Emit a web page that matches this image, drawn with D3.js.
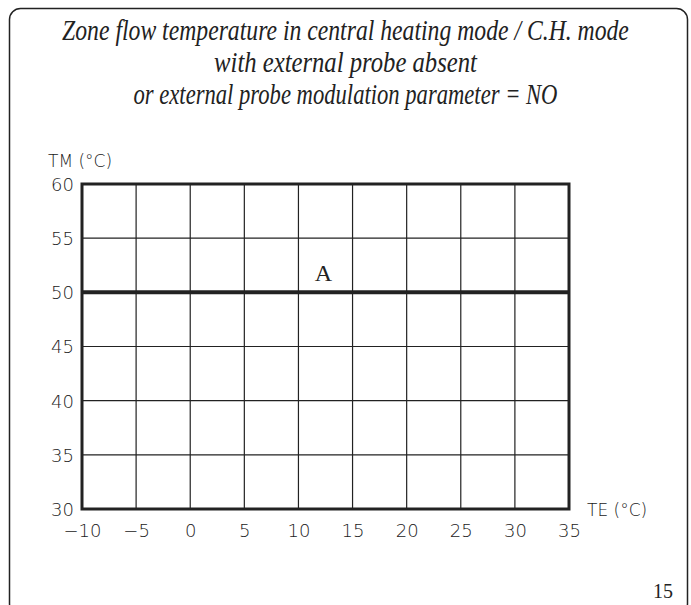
<!DOCTYPE html>
<html>
<head>
<meta charset="utf-8">
<script src="https://cdn.jsdelivr.net/npm/d3@7"></script>
<style>
  html, body { margin: 0; padding: 0; background: #fff; }
</style>
</head>
<body>
<svg id="chart"></svg>
<script>
// Axis ticks (TE outside temperature, TM flow temperature)
const xTicks = [-10, -5, 0, 5, 10, 15, 20, 25, 30, 35]
const yTicks = [30, 35, 40, 45, 50, 55, 60]
// Curve A: flat flow temperature
const curveTE = [-10, 35]
const curveTM = [50, 50]
const curveLabel = 'A'

const titleLines = [
  'Zone flow temperature in central heating mode / C.H. mode',
  'with external probe absent',
  'or external probe modulation parameter = NO'
]

const width = 691
const height = 605
const plot = { left: 82, top: 184, right: 569, bottom: 509 }
const ink = '#222'
const sans = "'DejaVu Sans', sans-serif"
const serif = "'Liberation Serif', 'DejaVu Serif', serif"

const svg = d3.select('#chart')
  .attr('width', width)
  .attr('height', height)

const x = d3.scaleLinear().domain([d3.min(xTicks), d3.max(xTicks)]).range([plot.left, plot.right])
const y = d3.scaleLinear().domain([d3.min(yTicks), d3.max(yTicks)]).range([plot.bottom, plot.top])

// page frame with rounded corners
svg.append('rect')
  .attr('x', 9.5)
  .attr('y', 8.5)
  .attr('width', 678)
  .attr('height', 606)
  .attr('rx', 11)
  .style('fill', 'none')
  .style('stroke', ink)
  .style('stroke-width', 1.5)

// title: condensed italic serif, squeezed horizontally to the widths in the original
const titleWidths = [567, 263, 424]
const titleBase = [40, 72, 104]
titleLines.forEach((line, i) => {
  const t = svg.append('text')
    .attr('text-anchor', 'middle')
    .attr('font-family', serif)
    .attr('font-style', 'italic')
    .attr('font-size', 29)
    .style('fill', ink)
    .text(line)
  const sx = titleWidths[i] / t.node().getComputedTextLength()
  t.attr('transform', `translate(${width / 2},${titleBase[i]}) scale(${sx},1)`)
})

// grid
const grid = svg.append('g')
grid.selectAll('.vgrid').data(xTicks.slice(1, -1)).enter().append('line')
  .attr('x1', d => x(d)).attr('x2', d => x(d))
  .attr('y1', plot.top).attr('y2', plot.bottom)
  .style('stroke', ink).style('stroke-width', 1.2)
grid.selectAll('.hgrid').data(yTicks.slice(1, -1)).enter().append('line')
  .attr('x1', plot.left).attr('x2', plot.right)
  .attr('y1', d => y(d)).attr('y2', d => y(d))
  .style('stroke', ink).style('stroke-width', 1.2)

// axes, drawn with d3 axes but with ticks hidden
const xAxis = d3.axisBottom(x).tickValues(xTicks).tickSize(0).tickPadding(0)
  .tickFormat(d => d < 0 ? '\u2212' + Math.abs(d) : d)
const yAxis = d3.axisLeft(y).tickValues(yTicks).tickSize(0).tickPadding(0)

const gx = svg.append('g')
  .attr('transform', `translate(0,${plot.bottom})`)
  .call(xAxis)
gx.select('.domain').remove()
gx.selectAll('text')
  .attr('y', 28)
  .attr('dy', 0)
  .attr('font-family', sans)
  .attr('font-weight', 200)
  .attr('font-size', 18)
  .style('fill', '#222')

const gy = svg.append('g')
  .attr('transform', `translate(${plot.left - 8},0)`)
  .call(yAxis)
gy.select('.domain').remove()
gy.selectAll('text')
  .attr('x', 0)
  .attr('dy', '0.36em')
  .attr('font-family', sans)
  .attr('font-weight', 200)
  .attr('font-size', 18)
  .style('fill', '#222')

// plot border
svg.append('rect')
  .attr('x', plot.left)
  .attr('y', plot.top)
  .attr('width', plot.right - plot.left)
  .attr('height', plot.bottom - plot.top)
  .style('fill', 'none')
  .style('stroke', ink)
  .style('stroke-width', 3)

// curve A
const line = d3.line().x(d => x(d[0])).y(d => y(d[1]))
svg.append('path')
  .datum(d3.zip(curveTE, curveTM))
  .attr('d', line)
  .style('fill', 'none')
  .style('stroke', ink)
  .style('stroke-width', 4)

svg.append('text')
  .attr('x', x(12.3))
  .attr('y', y(curveTM[0]) - 11)
  .attr('text-anchor', 'middle')
  .attr('font-family', serif)
  .attr('font-size', 24)
  .style('fill', ink)
  .text(curveLabel)

// axis titles
svg.append('text')
  .attr('x', 48)
  .attr('y', 167)
  .attr('font-family', sans)
  .attr('font-weight', 200)
  .attr('font-size', 17)
  .style('fill', '#222')
  .text('TM (°C)')

svg.append('text')
  .attr('x', 587)
  .attr('y', 516)
  .attr('font-family', sans)
  .attr('font-weight', 200)
  .attr('font-size', 17)
  .style('fill', '#222')
  .text('TE (°C)')

// page number
svg.append('text')
  .attr('x', 673)
  .attr('y', 598)
  .attr('text-anchor', 'end')
  .attr('font-family', serif)
  .attr('font-size', 20)
  .style('fill', ink)
  .text('15')
</script>
</body>
</html>
